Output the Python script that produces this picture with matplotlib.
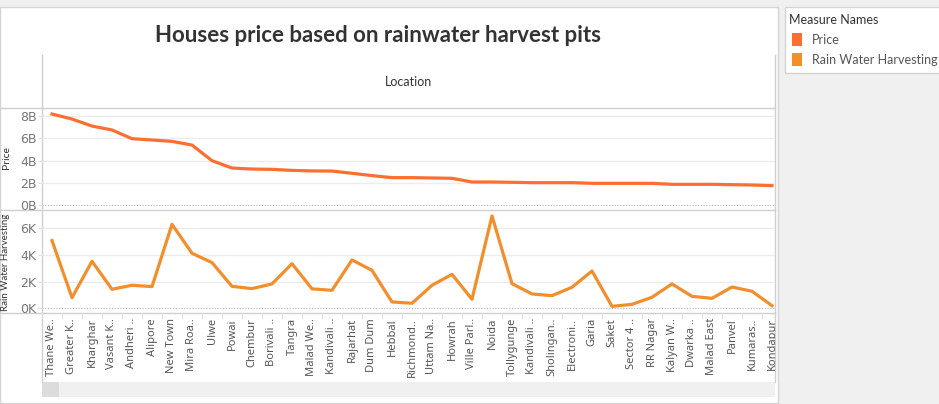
import matplotlib.pyplot as plt
from matplotlib.patches import Rectangle
from matplotlib.ticker import FuncFormatter
from matplotlib.transforms import blended_transform_factory

# ---- data ----
locations = ["Thane We..", "Greater K..", "Kharghar", "Vasant K..", "Andheri ..",
             "Alipore", "New Town", "Mira Roa..", "Ulwe", "Powai", "Chembur",
             "Borivali ..", "Tangra", "Malad We..", "Kandivali ..", "Rajarhat",
             "Dum Dum", "Hebbal", "Richmond..", "Uttam Na..", "Howrah",
             "Ville Parl..", "Noida", "Tollygunge", "Kandivali ..", "Sholingan..",
             "Electroni..", "Garia", "Saket", "Sector 4 ..", "RR Nagar",
             "Kalyan W..", "Dwarka ..", "Malad East", "Panvel", "Kumaras..", "Kondapur"]
price_b = [8.18, 7.73, 7.10, 6.75, 5.97, 5.85, 5.73, 5.40, 4.00, 3.34, 3.25,
           3.22, 3.13, 3.08, 3.07, 2.87, 2.66, 2.48, 2.48, 2.45, 2.42, 2.09,
           2.09, 2.06, 2.03, 2.03, 2.03, 1.97, 1.97, 1.97, 1.97, 1.88, 1.88,
           1.88, 1.85, 1.82, 1.76]
rain_k = [5.08, 0.80, 3.53, 1.43, 1.73, 1.63, 6.30, 4.13, 3.43, 1.65, 1.48,
          1.83, 3.35, 1.46, 1.35, 3.63, 2.85, 0.48, 0.38, 1.73, 2.55, 0.68,
          6.93, 1.85, 1.08, 0.95, 1.58, 2.80, 0.15, 0.30, 0.83, 1.83, 0.90,
          0.75, 1.60, 1.28, 0.20]
price_ticks = [0, 2, 4, 6, 8]
rain_ticks = [0, 2, 4, 6]

W, H = 939, 404
price_col = '#fd6e33'
rain_col = '#f28e2b'
grey_line = '#cfcfcf'

fig = plt.figure(figsize=(W / 100, H / 100), dpi=100, facecolor='#f0f0f0')

# background canvas in pixel coordinates
bg = fig.add_axes([0, 0, 1, 1])
bg.set_xlim(0, W)
bg.set_ylim(H, 0)
bg.axis('off')
bg.add_patch(Rectangle((0, 7), 778, 396, facecolor='white', edgecolor='#d4d4d4', lw=1))
bg.add_patch(Rectangle((785, 7), 160, 66, facecolor='white', edgecolor='#d4d4d4', lw=1))

# structure lines
bg.plot([42, 42], [55, 382], color=grey_line, lw=1)
bg.plot([775, 775], [55, 382], color=grey_line, lw=1)
for yy in [108, 210, 313]:
    bg.plot([0, 775], [yy, yy], color=grey_line, lw=1)
for k in range(37):
    bg.plot([42 + 20 * k, 42 + 20 * k], [313, 318], color='#e2e2e2', lw=0.8)

# scrollbar
bg.add_patch(Rectangle((42, 382), 733, 15, facecolor='#f0f0f0', edgecolor='none'))
bg.add_patch(Rectangle((42, 382), 17, 15, facecolor='#dcdcdc', edgecolor='none'))

# texts
bg.text(378, 35, 'Houses price based on rainwater harvest pits', ha='center', va='center',
        fontsize=16, fontweight='bold', color='#333333', family='Lato')
bg.text(408, 82, 'Location', ha='center', va='center', fontsize=9, color='#333333', family='Lato')
bg.text(6, 158, 'Price', rotation=90, ha='center', va='center', fontsize=7.5,
        color='#333333', family='Lato')
bg.text(6, 262, 'Rain Water Harvesting', rotation=90, ha='center', va='center',
        fontsize=7, color='#333333', family='Lato')

# legend
bg.text(789, 20, 'Measure Names', ha='left', va='center', fontsize=9, color='#333333', family='Lato')
bg.add_patch(Rectangle((792, 33), 10, 13, facecolor=price_col, edgecolor='none'))
bg.add_patch(Rectangle((792, 53), 10, 13, facecolor=rain_col, edgecolor='none'))
bg.text(812, 40, 'Price', ha='left', va='center', fontsize=9, color='#555555', family='Lato')
bg.text(812, 60, 'Rain Water Harvesting', ha='left', va='center', fontsize=9, color='#555555', family='Lato')


def pane(top, bottom):
    return fig.add_axes([42 / W, 1 - bottom / H, (775 - 42) / W, (bottom - top) / H])


x = list(range(len(locations)))
ax1 = pane(108, 210)
ax2 = pane(211, 313)

for ax, vals, col, ticks, lim, suf in [
        (ax1, price_b, price_col, price_ticks, (-0.42, 8.72), 'B'),
        (ax2, rain_k, rain_col, rain_ticks, (-0.35, 7.3), 'K')]:
    ax.set_facecolor('none')
    ax.plot(x, vals, color=col, lw=2.3, solid_joinstyle='round', zorder=3)
    ax.set_xlim(-0.5, 36.15)
    ax.set_ylim(*lim)
    ax.set_yticks(ticks)
    ax.yaxis.set_major_formatter(FuncFormatter(lambda v, p, s=suf: f'{v:.0f}{s}'))
    for t in ticks[1:]:
        ax.axhline(t, color='#ececec', lw=1, zorder=1)
    ax.axhline(0, color='#b5b5b5', lw=0.8, ls=(0, (1, 1.5)), zorder=2)
    for s in ax.spines.values():
        s.set_visible(False)
    ax.set_xticks([])
    ax.tick_params(axis='y', length=3, color='#e0e0e0', labelcolor='#777777',
                   labelsize=9, pad=1)

# location labels, clipped at the pane's right edge like the scrolled view
clip = Rectangle((42, 313), 733, 69, transform=bg.transData, facecolor='none', edgecolor='none')
bg.add_patch(clip)
trans = blended_transform_factory(ax2.transData, ax2.transAxes)
for i, name in enumerate(locations):
    t = ax2.text(i, -0.05, name, transform=trans, rotation=90, ha='center', va='top',
                 fontsize=8, color='#555555', family='Noto Sans', clip_on=True)
    t.set_clip_path(clip)

fig.savefig('out.png', dpi=100, facecolor=fig.get_facecolor())
